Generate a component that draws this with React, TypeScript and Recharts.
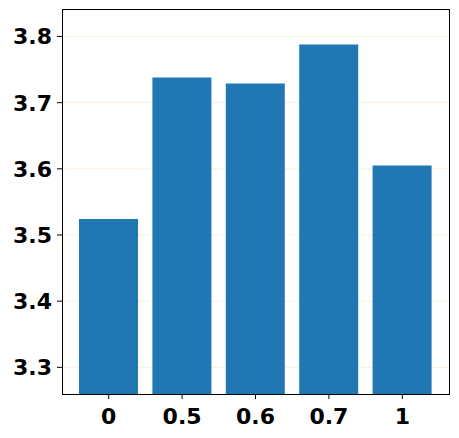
import React from "react";
import {
  BarChart,
  Bar,
  XAxis,
  YAxis,
  CartesianGrid,
} from "recharts";

const categories = ["0", "0.5", "0.6", "0.7", "1"];
const values = [3.524, 3.738, 3.729, 3.788, 3.605];
const yTicks = [3.3, 3.4, 3.5, 3.6, 3.7, 3.8];

const data = categories.map((c, i) => ({ name: c, value: values[i] }));

const FONT = "DejaVu Sans";

const XTick = (props: any) => {
  const { x, y, payload } = props;
  return (
    <text
      x={x}
      y={y}
      dy={15.5}
      textAnchor="middle"
      fontFamily={FONT}
      fontWeight="bold"
      fontSize={22}
      fill="#000"
    >
      {payload.value}
    </text>
  );
};

const YTick = (props: any) => {
  const { x, y, payload } = props;
  return (
    <text
      x={x}
      y={y}
      dy={8}
      textAnchor="end"
      fontFamily={FONT}
      fontWeight="bold"
      fontSize={22}
      fill="#000"
    >
      {Number(payload.value).toFixed(1)}
    </text>
  );
};

const App = () => {
  return (
    <div style={{ position: "absolute", left: 0, top: 0, width: 459, height: 438 }}>
      <BarChart
        width={459}
        height={438}
        data={data}
        margin={{ top: 10, right: 10, bottom: 0, left: 0 }}
        barSize={59}
      >
        <CartesianGrid
          horizontal={true}
          vertical={false}
          stroke="#fbeedf"
          strokeWidth={1}
        />
        <XAxis
          dataKey="name"
          height={44}
          padding={{ left: 10, right: 10 }}
          tick={<XTick />}
          tickSize={5}
          tickMargin={9}
          axisLine={false}
          tickLine={{ stroke: "#000" }}
          interval={0}
        />
        <YAxis
          width={62}
          domain={[3.2597, 3.84]}
          ticks={yTicks}
          allowDataOverflow={true}
          tick={<YTick />}
          tickSize={5}
          tickMargin={5}
          axisLine={false}
          tickLine={{ stroke: "#000" }}
        />
        <Bar dataKey="value" fill="#1f77b4" isAnimationActive={false} />
      </BarChart>
      <div
        style={{
          position: "absolute",
          left: 62,
          top: 9,
          width: 386,
          height: 384,
          border: "1px solid #000",
          pointerEvents: "none",
        }}
      />
    </div>
  );
};

export default App;
